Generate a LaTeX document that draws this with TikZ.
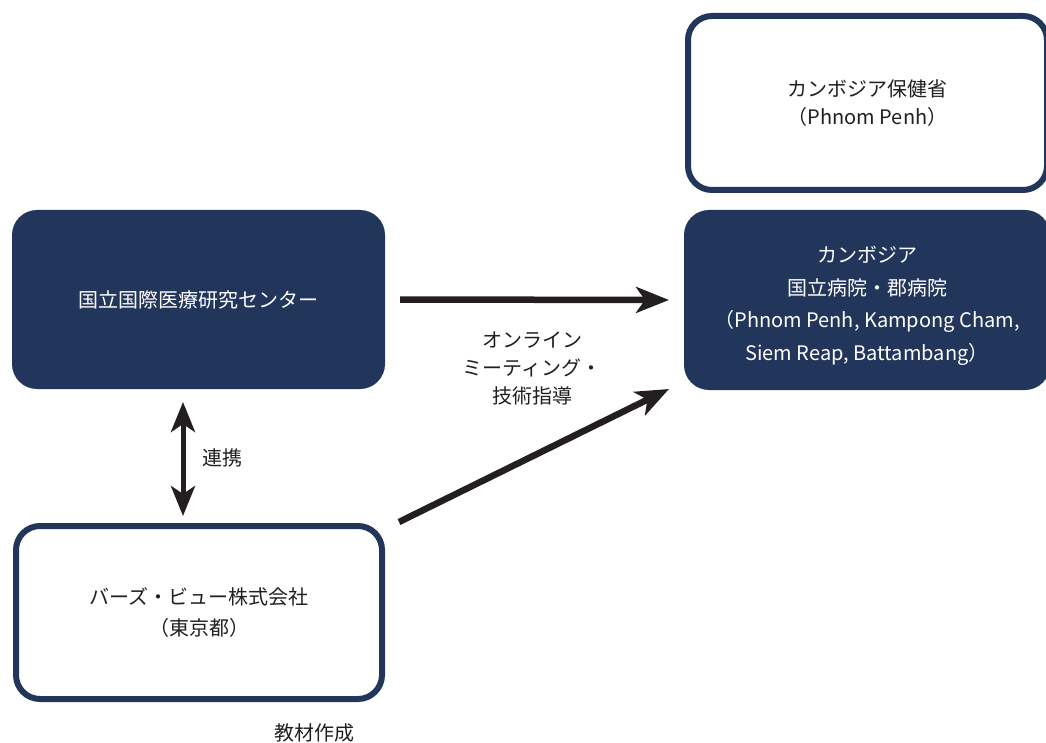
\documentclass[tikz,border=0pt]{standalone}
\usepackage{fontspec}
\setmainfont{Noto Sans CJK JP}
\usetikzlibrary{arrows.meta,calc}
\definecolor{navy}{HTML}{22355A}
\definecolor{ink}{HTML}{231F20}
\tikzset{
  darkbox/.style={fill=navy, rounded corners=25pt, outer sep=0pt, text=white, align=center, font=\fontsize{20}{32.5}\selectfont},
  whitebox/.style={draw=navy, line width=6pt, fill=white, rounded corners=24pt, outer sep=0pt, text=ink, align=center},
  bigarrow/.style={draw=ink, line width=6.5pt, -{Stealth[length=33pt,width=26pt,inset=9pt]}},
  dblarrow/.style={draw=ink, line width=5pt, {Stealth[length=30pt,width=24pt,inset=8pt]}-{Stealth[length=30pt,width=24pt,inset=8pt]}},
  lbl/.style={text=ink, align=center, font=\fontsize{20}{28}\selectfont}
}
\begin{document}
\begin{tikzpicture}[x=1pt,y=-1pt]
\useasboundingbox (0,0) rectangle (1046,743);
\fill[white] (0,0) rectangle (1046,743);
\node[darkbox, minimum width=373pt, minimum height=179pt] (ncgm) at (198.5,299.5) {国立国際医療研究センター};
\node[darkbox, minimum width=366pt, minimum height=180pt] (hosp) at (867,300) {};
\node[text=white, align=center, font=\fontsize{20}{32.5}\selectfont] (hosptext) at ($(hosp.center)+(0,6)$) {カンボジア\\国立病院・郡病院\\（Phnom Penh, Kampong Cham,\\Siem Reap, Battambang）};
\node[whitebox, minimum width=359pt, minimum height=174pt, font=\fontsize{20}{28}\selectfont] (moh) at (867.5,103) {カンボジア保健省\\（Phnom Penh）};
\node[whitebox, minimum width=366pt, minimum height=173pt, font=\fontsize{20}{31}\selectfont] (bv) at (199,612.5) {バーズ・ビュー株式会社\\（東京都）};
\draw[bigarrow] ($(ncgm.east)+(15,0)$) -- ($(hosp.west)+(-15,0)$);
\draw[bigarrow] ($(bv.north east)+(17,-4)$) -- ($(hosp.south west)+(-15,-1)$);
\draw[dblarrow] ($(ncgm.south)+(-15.5,13)$) -- ($(bv.north)+(-16,-10)$);
\node[lbl] (online) at (532,368) {オンライン\\ミーティング・\\技術指導};
\node[lbl] (renkei) at (222,458) {連携};
\node[lbl] (kyozai) at (314,733) {教材作成};
\end{tikzpicture}
\end{document}
